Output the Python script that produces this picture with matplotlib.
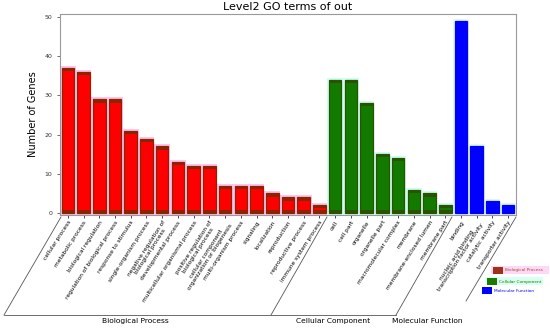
import numpy as np
import matplotlib.pyplot as plt
from matplotlib.patches import Rectangle
from matplotlib.lines import Line2D

bp_terms = ['cellular process', 'metabolic process', 'biological regulation',
            'regulation of biological process', 'response to stimulus',
            'single-organism process', 'negative regulation of\nbiological process',
            'developmental process', 'multicellular organismal process',
            'positive regulation of\nbiological process',
            'cellular component\norganization or biogenesis',
            'multi-organism process', 'signaling', 'localization', 'reproduction',
            'reproductive process', 'immune system process']
bp_counts = [37, 36, 29, 29, 21, 19, 17, 13, 12, 12, 7, 7, 7, 5, 4, 4, 2]

cc_terms = ['cell', 'cell part', 'organelle', 'organelle part',
            'macromolecular complex', 'membrane', 'membrane-enclosed lumen',
            'membrane part']
cc_counts = [34, 34, 28, 15, 14, 6, 5, 2]

mf_terms = ['binding', 'nucleic acid binding\ntranscription factor activity',
            'catalytic activity', 'transporter activity']
mf_counts = [49, 17, 3, 2]

groups = ['Biological Process', 'Cellular Component', 'Molecular Function']

# fill, cap/edge, halo
styles = [('#ff0000', '#8b2400', '#ffc4ec'),
          ('#137a00', '#2b5200', '#ccfff0'),
          ('#0000ff', '#0000ff', '#e0f8ff')]

fig = plt.figure(figsize=(5.5, 3.29), dpi=100)
ax = fig.add_axes([60/550, 1-215/329, 456/550, 201/329])

terms = bp_terms + cc_terms + mf_terms
start = 0
for (fill, edge, halo), counts in zip(styles, [bp_counts, cc_counts, mf_counts]):
    x = np.arange(start, start + len(counts))
    h = np.array(counts, dtype=float)
    ax.bar(x, h + 1.0, width=1.0, bottom=-0.5, color=halo, zorder=1)
    ax.bar(x, h, width=0.8, color=fill, edgecolor=edge, linewidth=0.9, zorder=2)
    if edge != fill:
        cap = np.minimum(h / 2, 0.8)
        ax.bar(x, cap, width=0.8, bottom=h - cap, color=edge, zorder=3)
        ax.bar(x, cap, width=0.8, bottom=0, color=edge, zorder=3)
    start += len(counts)

ax.set_xlim(-0.5, len(terms) - 0.5)
ax.set_ylim(-0.5, 50.8)
ax.set_yticks(range(0, 51, 10))
ax.set_xticks(range(len(terms)))
ax.set_xticklabels(terms, rotation=57, ha='right', va='top', multialignment='center',
                   rotation_mode='anchor', fontsize=4.2, linespacing=0.95)
ax.tick_params(axis='y', labelsize=4.5, length=2, width=0.5, colors='#333333')
ax.tick_params(axis='x', length=2, width=0.5, pad=1.5)
for s in ax.spines.values():
    s.set_color('#999999')
    s.set_linewidth(0.8)
ax.set_ylabel('Number of Genes', fontsize=7, labelpad=5)
ax.set_title('Level2 GO terms of out', fontsize=8, pad=3)

# overlay in pixel coordinates for the group brackets and legend
ov = fig.add_axes([0, 0, 1, 1], zorder=-1)
ov.set_xlim(0, 550)
ov.set_ylim(329, 0)
ov.axis('off')
ov.patch.set_alpha(0)
lc = '#555555'
for x0, x1 in [(61, 4), (327, 271), (452, 396)]:
    ov.add_line(Line2D([x0, x1], [217, 315], color=lc, lw=0.6))
ov.add_line(Line2D([516, 466], [217, 301], color=lc, lw=0.6))
ov.add_line(Line2D([4, 396], [315, 315], color=lc, lw=0.6))
for name, gx in zip(groups, [135, 333, 427]):
    ov.text(gx, 321, name, fontsize=5.4, ha='center', va='center')

leg = [((493, 267), '#a0301a', '#ffd8f8', '#a0522d'),
       ((487, 278), '#1c7a00', '#d8fff0', '#1c7a00'),
       ((482, 287), '#0000ff', '#ffffff', '#0000ff')]
for (lx, ly), pc, bg, tc, name in [(l[0], l[1], l[2], l[3], g) for l, g in zip(leg, groups)]:
    ov.add_patch(Rectangle((lx - 2, ly - 1), 58, 8, color=bg, lw=0))
    ov.add_patch(Rectangle((lx, ly), 10, 7, color=pc, lw=0))
    ov.text(lx + 12, ly + 3.5, name, fontsize=3.1, color=tc, va='center')

fig.savefig('out.png', dpi=100)
